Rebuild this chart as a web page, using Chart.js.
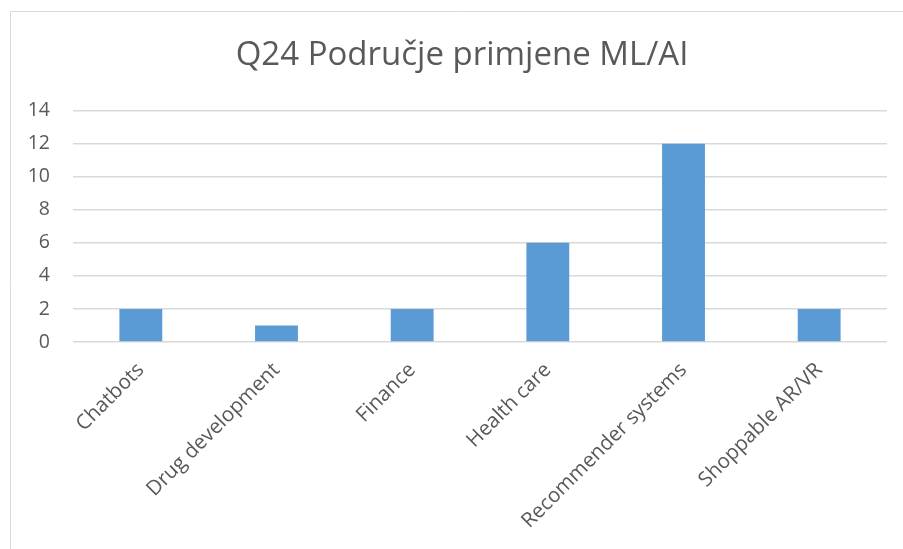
<!DOCTYPE html>
<html>
<head>
<meta charset="utf-8">
<script src="https://cdn.jsdelivr.net/npm/chart.js@4/dist/chart.umd.min.js"></script>
<style>
html,body{margin:0;padding:0;background:#fff;}
#wrap{width:903px;height:549px;position:relative;}
</style>
</head>
<body>
<div id="wrap"><canvas id="c" width="903" height="549"></canvas></div>
<script>
const titleText = "Q24 Područje primjene ML/AI";
const categories = ["Chatbots", "Drug development", "Finance", "Health care", "Recommender systems", "Shoppable AR/VR"];
const counts = [2, 1, 2, 6, 12, 2];
const yMin = 0, yMax = 14, yStep = 2;

const framePlugin = {
  id: 'frame',
  beforeDraw(chart) {
    const ctx = chart.ctx;
    ctx.save();
    ctx.fillStyle = '#ffffff';
    ctx.fillRect(0, 0, chart.width, chart.height);
    ctx.strokeStyle = '#d9d9d9';
    ctx.lineWidth = 1;
    ctx.beginPath();
    ctx.moveTo(10.5, chart.height);
    ctx.lineTo(10.5, 11.5);
    ctx.lineTo(chart.width, 11.5);
    ctx.stroke();
    ctx.restore();
  }
};

new Chart(document.getElementById('c'), {
  type: 'bar',
  data: {
    labels: categories,
    datasets: [{
      data: counts,
      yAxisID: 'y',
      backgroundColor: '#5b9bd5',
      borderWidth: 0,
      categoryPercentage: 1,
      barPercentage: 0.316
    }]
  },
  options: {
    responsive: false,
    animation: false,
    layout: { padding: { left: 21, right: 0, top: 0, bottom: 0 } },
    plugins: {
      legend: { display: false },
      tooltip: { enabled: false },
      title: {
        display: true,
        text: titleText,
        color: '#595959',
        font: { family: 'Open Sans', size: 33, weight: 'normal' },
        padding: { top: 36, bottom: 35 }
      }
    },
    scales: {
      x: {
        grid: { display: false, drawTicks: false },
        border: { display: false },
        ticks: {
          color: '#595959',
          font: { family: 'Open Sans', size: 20.5 },
          minRotation: 45,
          maxRotation: 45,
          padding: 16,
          autoSkip: false
        },
        afterFit(scale) { scale.height = 207; }
      },
      y: {
        min: yMin,
        max: yMax,
        grid: { color: '#d9d9d9', lineWidth: 1.5, drawTicks: false },
        border: { display: false },
        ticks: {
          stepSize: yStep,
          color: '#595959',
          font: { family: 'Open Sans', size: 19.5 },
          padding: 23
        },
        afterFit(scale) { scale.width = 52; }
      },
      yRight: {
        position: 'right',
        min: yMin,
        max: yMax,
        grid: { display: false, drawTicks: false },
        border: { display: false },
        ticks: { display: false },
        afterFit(scale) { scale.width = 16; }
      }
    }
  },
  plugins: [framePlugin]
});
</script>
</body>
</html>
